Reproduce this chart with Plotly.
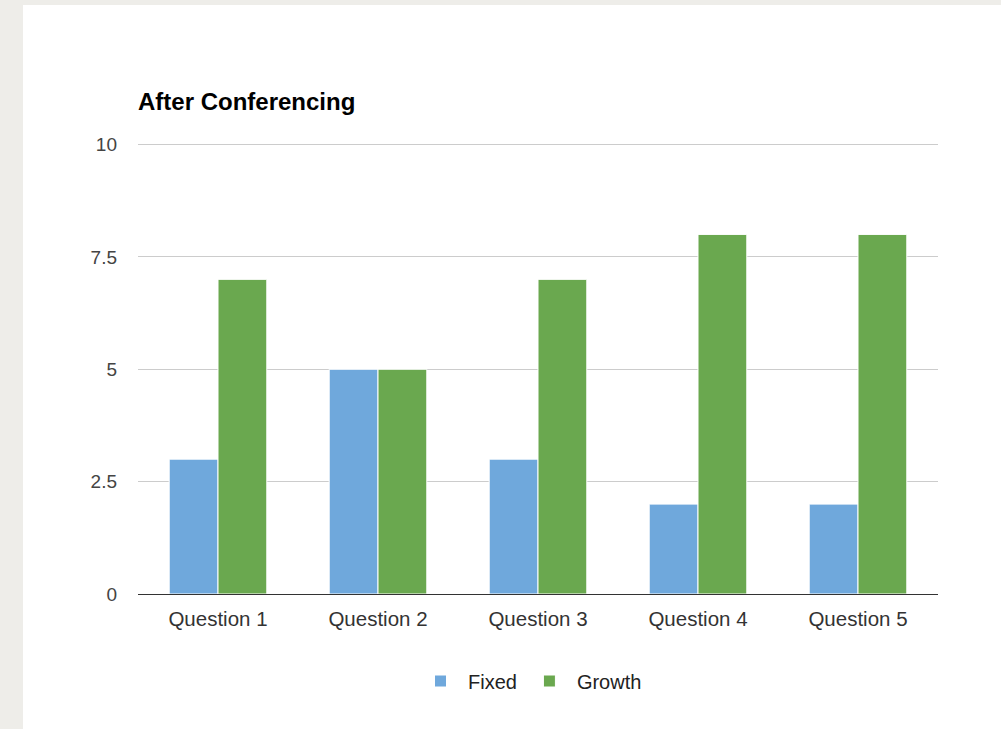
import plotly.graph_objects as go

categories = ["Question 1", "Question 2", "Question 3", "Question 4", "Question 5"]
fixed = [3, 5, 3, 2, 2]
growth = [7, 5, 7, 8, 8]
y_ticks = [0, 2.5, 5, 7.5, 10]
y_tick_labels = ["0", "2.5", "5", "7.5", "10"]

W, H = 1001, 729
L, R, T, B = 138, 63, 140, 135

FONT = "Arial, Liberation Sans, sans-serif"

fig = go.Figure()
fig.add_trace(go.Bar(name="Fixed", x=categories, y=fixed,
                     marker=dict(color="#6fa8dc", line=dict(color="white", width=1))))
fig.add_trace(go.Bar(name="Growth", x=categories, y=growth,
                     marker=dict(color="#6aa84f", line=dict(color="white", width=1))))

# slide background: white panel on light gray
fig.add_shape(type="rect", xref="paper", yref="paper",
              x0=(23 - L) / (W - L - R), x1=(W - L) / (W - L - R) + 0.01,
              y0=-(B + 5) / (H - T - B), y1=(H - 5 - B) / (H - T - B),
              fillcolor="white", line=dict(width=0), layer="below")

fig.update_layout(
    width=W, height=H,
    margin=dict(l=L, r=R, t=T, b=B),
    paper_bgcolor="#eeede9",
    plot_bgcolor="rgba(0,0,0,0)",
    barmode="group",
    bargap=0.39,
    bargroupgap=0.0,
    font=dict(family=FONT, size=19, color="#444444"),
    title=dict(text="<b>After Conferencing</b>", x=0, xref="paper", xanchor="left",
               y=1 - 102 / H, yref="container", yanchor="middle",
               font=dict(size=24, color="#000000", family=FONT)),
    legend=dict(orientation="h", x=0.49, xanchor="center", y=-(681 - 594) / (H - T - B),
                yanchor="middle", font=dict(size=20, color="#222222", family=FONT),
                bgcolor="rgba(0,0,0,0)", itemwidth=45, traceorder="normal"),
    xaxis=dict(showgrid=False, showline=True, linecolor="#333333", linewidth=1,
               ticks="", ticklabelstandoff=6,
               tickfont=dict(size=20.5, color="#333333", family=FONT)),
    yaxis=dict(range=[0, 10.1], tickvals=y_ticks, ticktext=y_tick_labels,
               showgrid=True, gridcolor="#cccccc", gridwidth=1,
               zeroline=False, showline=False, ticks="",
               ticklabelstandoff=20, tickfont=dict(size=19, color="#444444", family=FONT)),
)

fig.write_html("out.html")
